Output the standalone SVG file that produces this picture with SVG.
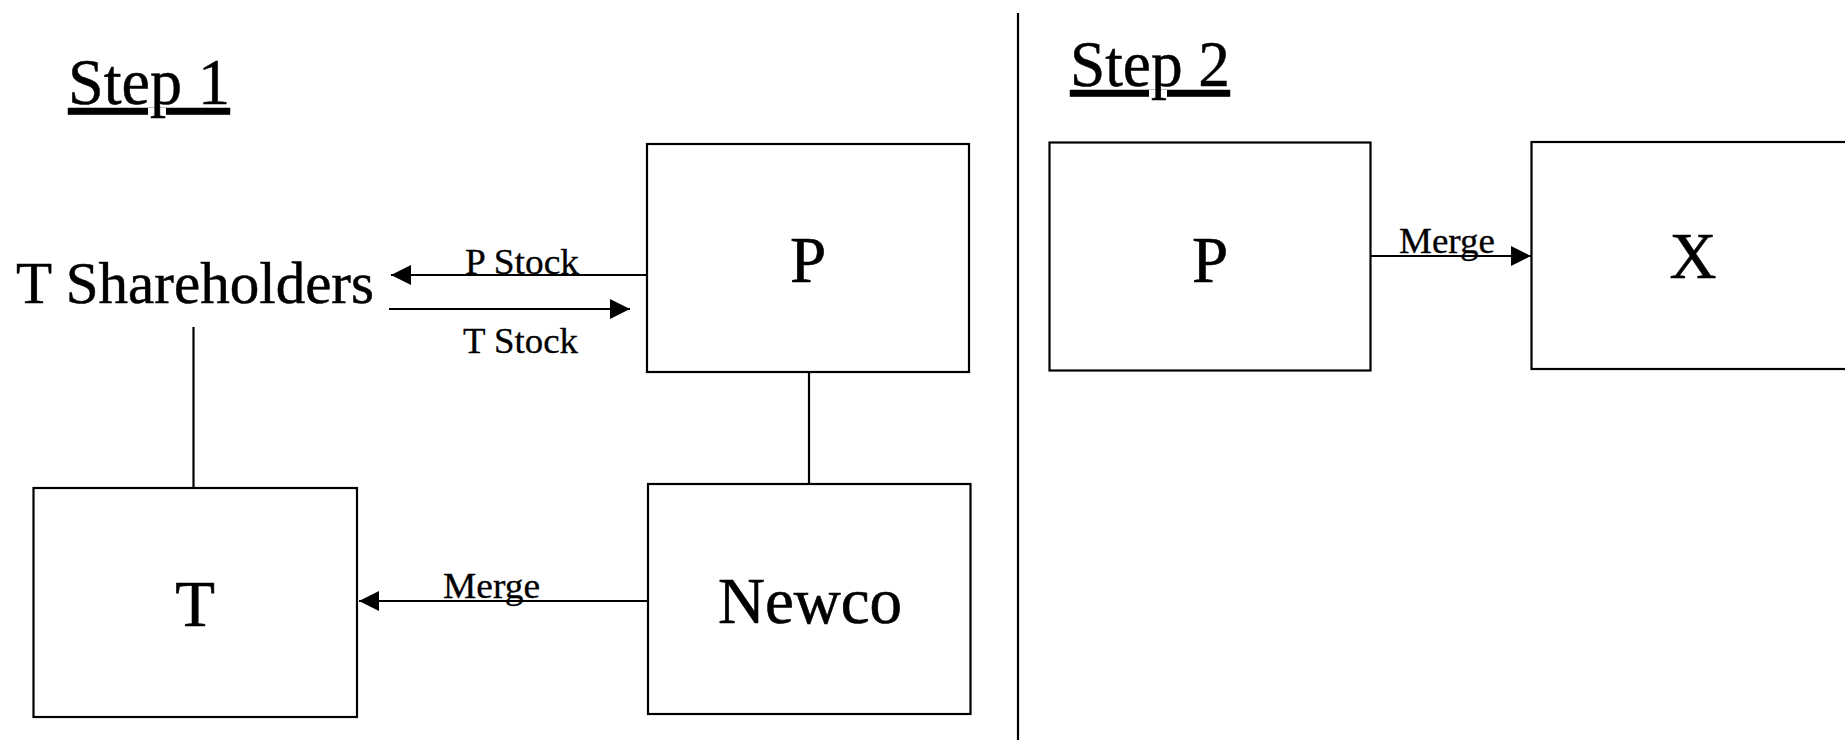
<svg xmlns="http://www.w3.org/2000/svg" width="1845" height="740" viewBox="0 0 1845 740">
<style>
.box{fill:#fff;stroke:#000;stroke-width:2.2}
.ln{stroke:#000;stroke-width:2.2;fill:none}
.big{font-family:"Liberation Serif","Times New Roman",serif;font-size:65px;fill:#000;stroke:#000;stroke-width:0.6;text-anchor:middle}
.title{font-family:"Liberation Serif","Times New Roman",serif;font-size:66px;fill:#000;stroke:#000;stroke-width:0.5;text-decoration:underline}
.lbl{font-family:"Liberation Serif","Times New Roman",serif;font-size:36px;fill:#000;stroke:#000;stroke-width:0.3}
</style>
<defs>
<marker id="ah" markerUnits="userSpaceOnUse" markerWidth="20" markerHeight="20" refX="20" refY="10" orient="auto">
<path d="M0,0 L20,10 L0,20 Z" fill="#000"/>
</marker>
</defs>
<rect width="1845" height="740" fill="#fff"/>
<line id="divider" x1="1018" y1="13" x2="1018" y2="740" class="ln"/>
<text id="step1" class="title" x="68" y="104" textLength="162" lengthAdjust="spacingAndGlyphs">Step 1</text>
<text id="step2" class="title" x="1070" y="86" textLength="160" lengthAdjust="spacingAndGlyphs">Step 2</text>
<g id="connectors">
<line class="ln" x1="647" y1="275" x2="391" y2="275" marker-end="url(#ah)"/>
<text class="lbl" x="465" y="274" textLength="114" lengthAdjust="spacingAndGlyphs">P Stock</text>
<line class="ln" x1="389" y1="309" x2="630" y2="309" marker-end="url(#ah)"/>
<text class="lbl" x="463" y="353" textLength="115" lengthAdjust="spacingAndGlyphs">T Stock</text>
<line class="ln" x1="193.5" y1="327" x2="193.5" y2="488"/>
<line class="ln" x1="809" y1="372" x2="809" y2="484"/>
<line class="ln" x1="648" y1="601" x2="359" y2="601" marker-end="url(#ah)"/>
<text class="lbl" x="443" y="598" textLength="97" lengthAdjust="spacingAndGlyphs">Merge</text>
<line class="ln" x1="1371" y1="256" x2="1531" y2="256" marker-end="url(#ah)"/>
<text class="lbl" x="1399" y="253" textLength="96" lengthAdjust="spacingAndGlyphs">Merge</text>
</g>
<g id="t-shareholders">
<text x="16" y="303" font-family="Liberation Serif, Times New Roman, serif" font-size="60" fill="#000" stroke="#000" stroke-width="0.5" textLength="358" lengthAdjust="spacingAndGlyphs">T Shareholders</text>
</g>
<g id="p1">
<rect class="box" x="647" y="144" width="322" height="228"/>
<text class="big" x="808" y="282">P</text>
</g>
<g id="t">
<rect class="box" x="33.5" y="488" width="323.5" height="229"/>
<text class="big" x="195" y="626">T</text>
</g>
<g id="newco">
<rect class="box" x="648" y="484" width="322.5" height="230"/>
<text class="big" x="810" y="623">Newco</text>
</g>
<g id="p2">
<rect class="box" x="1049.5" y="142.5" width="321" height="228"/>
<text class="big" x="1210" y="282">P</text>
</g>
<g id="x">
<rect class="box" x="1531.5" y="142" width="330" height="227"/>
<text class="big" x="1693" y="278">X</text>
</g>
</svg>
